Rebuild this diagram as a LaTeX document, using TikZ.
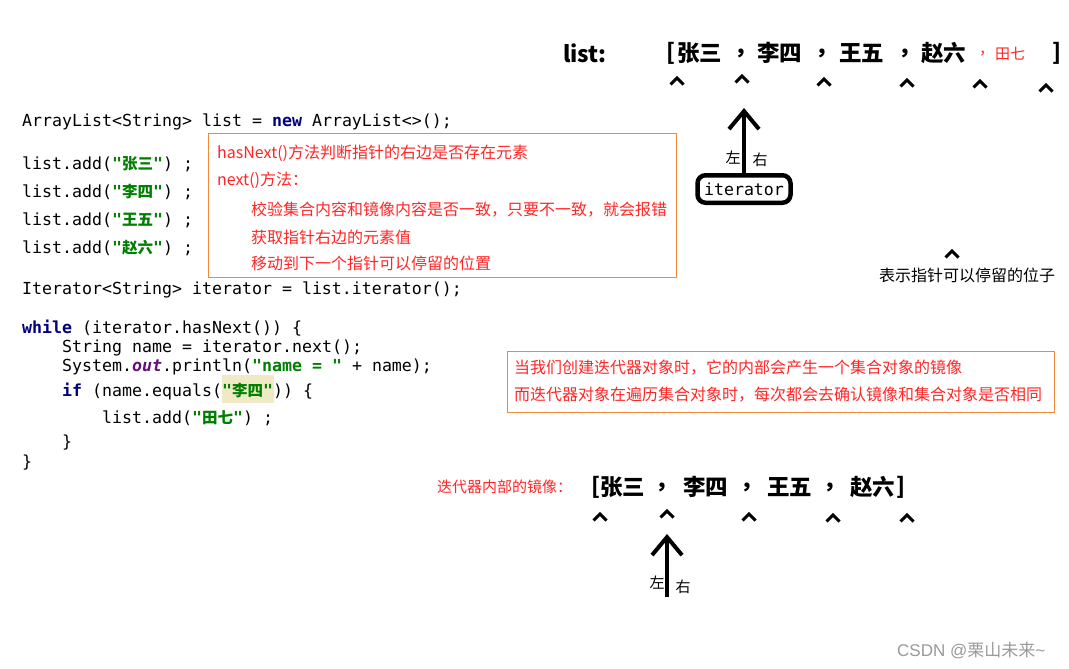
\documentclass[tikz,border=0pt]{standalone}
\usepackage{fontspec}
\setmainfont{Noto Sans CJK SC}
\setmonofont{DejaVu Sans Mono}
\newfontfamily\cjkfont{Noto Sans CJK SC}
\newfontfamily\wmfont{Liberation Sans}
\usetikzlibrary{arrows.meta,positioning}
\definecolor{NoteRed}{HTML}{FF2626}
\definecolor{NoteEdge}{HTML}{F0883A}
\definecolor{KeyNavy}{HTML}{00007F}
\definecolor{StrGreen}{HTML}{008000}
\definecolor{FieldPurple}{HTML}{660E7A}
\definecolor{MatchBg}{HTML}{EFE9C6}
\definecolor{MarkGray}{HTML}{9A9A9A}
\newcommand{\cdfont}{\ttfamily\fontsize{16.6}{20}\selectfont}
\newcommand{\ntfont}{\fontsize{16}{18}\selectfont}
\newcommand{\bgfont}{\bfseries\fontsize{22.5}{24}\selectfont}
\newcommand{\jkw}[1]{{\color{KeyNavy}\bfseries #1}}
\newcommand{\jstr}[1]{{\color{StrGreen}\bfseries #1}}
\newcommand{\jout}[1]{{\color{FieldPurple}\bfseries\itshape #1}}
\newcommand{\jcn}[1]{{\cjkfont\fontsize{15.5}{18}\selectfont #1}}
\tikzset{
  codeln/.style={anchor=base west, inner sep=0pt, font=\cdfont},
  notebox/.style={draw=NoteEdge, line width=1.2pt, fill=white, anchor=north west, inner sep=0pt},
  notetxt/.style={anchor=west, inner sep=0pt, text=NoteRed, font=\ntfont},
  bigtxt/.style={anchor=west, inner sep=0pt, font=\bgfont},
  sidetxt/.style={inner sep=0pt, font=\fontsize{15}{17}\selectfont},
  caret/.style={line width=3pt},
  ptrarr/.style={line width=4pt, -{Straight Barb[length=18pt,width=30pt]}},
  itbox/.style={draw, line width=4.5pt, rounded corners=8pt, minimum width=93pt,
                minimum height=27.5pt, inner sep=0pt, font=\cdfont}
}
\begin{document}
\begin{tikzpicture}[x=1pt, y=-1pt]
\useasboundingbox (0,0) rectangle (1069,669);
\fill[white] (0,0) rectangle (1069,669);

% list as it grows
\node[bigtxt] (lstLbl) at (563,53) {list:};
\node[bigtxt] (tOpen) at (666,53) {[};
\node[bigtxt] (tA) at (677,53) {张三};
\node[bigtxt] (tCa) at (734,53) {，};
\node[bigtxt] (tB) at (757,53) {李四};
\node[bigtxt] (tCb) at (815,53) {，};
\node[bigtxt] (tC) at (839,53) {王五};
\node[bigtxt] (tCc) at (898,53) {，};
\node[bigtxt] (tD) at (921,53) {赵六};
\node[notetxt, font=\fontsize{15}{17}\selectfont] (tCd) at (979,54) {，};
\node[notetxt, font=\fontsize{15}{17}\selectfont] (tE) at (995,54) {田七};
\node[bigtxt] (tClose) at (1052,53) {]};
\foreach \cx/\cy in {677/81, 742/79, 824/82, 907/83, 980/84, 1046/88}
  \draw[caret] (\cx-6.5,\cy+3.5) -- (\cx,\cy-3) -- (\cx+6.5,\cy+3.5);

% pointer
\node[itbox] (itBox) at (744,189) {iterator};
\coordinate (topTip) at (744,108);
\draw[ptrarr] (itBox.north) -- (topTip);
\node[sidetxt] (topL) at (733,158) {左};
\node[sidetxt] (topR) at (760,160) {右};

% legend
\draw[caret] (945.5,257.5) -- (952,251) -- (958.5,257.5);
\node[sidetxt, anchor=west, font=\fontsize{16}{18}\selectfont] (legend) at (879,275) {表示指针可以停留的位子};

% code
\fill[MatchBg] (222,375) rectangle (274,403);
\node[codeln] (lDecl) at (22,126) {ArrayList<String> list = \jkw{new} ArrayList<>();};
\node[codeln] (lAddA) at (22,169) {list.add(\jstr{"\jcn{张三}"}) ;};
\node[codeln] (lAddB) at (22,197) {list.add(\jstr{"\jcn{李四}"}) ;};
\node[codeln] (lAddC) at (22,225) {list.add(\jstr{"\jcn{王五}"}) ;};
\node[codeln] (lAddD) at (22,253) {list.add(\jstr{"\jcn{赵六}"}) ;};
\node[codeln] (lIter) at (22,294) {Iterator<String> iterator = list.iterator();};
\node[codeln] (lWhile) at (22,333) {\jkw{while} (iterator.hasNext()) \{};
\node[codeln] (lNext) at (62,352) {String name = iterator.next();};
\node[codeln] (lPrint) at (62,371) {System.\jout{out}.println(\jstr{"name = "} + name);};
\node[codeln] (lIf) at (62,396) {\jkw{if} (name.equals(\jstr{"\jcn{李四}"})) \{};
\node[codeln] (lAddE) at (102,423) {list.add(\jstr{"\jcn{田七}"}) ;};
\node[codeln] (lEndIf) at (62,447) {\}};
\node[codeln] (lEndWhile) at (22,467) {\}};

% notes
\node[notebox, minimum width=468pt, minimum height=144pt] (noteA) at (208,133) {};
\node[notetxt] (nA1) at (217,153) {hasNext()方法判断指针的右边是否存在元素};
\node[notetxt] (nA2) at (217,180) {next()方法：};
\node[notetxt] (nA3) at (251,210) {校验集合内容和镜像内容是否一致，只要不一致，就会报错};
\node[notetxt] (nA4) at (251,237) {获取指针右边的元素值};
\node[notetxt] (nA5) at (251,263) {移动到下一个指针可以停留的位置};
\node[notebox, minimum width=547pt, minimum height=61pt] (noteB) at (507,351) {};
\node[notetxt] (nB1) at (514,368) {当我们创建迭代器对象时，它的内部会产生一个集合对象的镜像};
\node[notetxt] (nB2) at (514,395) {而迭代器对象在遍历集合对象时，每次都会去确认镜像和集合对象是否相同};

% snapshot
\node[notetxt, font=\fontsize{15}{17}\selectfont] (snapLbl) at (437,487) {迭代器内部的镜像：};
\node[bigtxt] (bOpen) at (591,487) {[};
\node[bigtxt] (bA) at (600,487) {张三};
\node[bigtxt] (bCa) at (655,487) {，};
\node[bigtxt] (bB) at (683,487) {李四};
\node[bigtxt] (bCb) at (740,487) {，};
\node[bigtxt] (bC) at (767,487) {王五};
\node[bigtxt] (bCc) at (823,487) {，};
\node[bigtxt] (bD) at (850,487) {赵六};
\node[bigtxt] (bClose) at (896,487) {]};
\foreach \cx/\cy in {600/517, 667/514, 749/517, 833/518, 907/518}
  \draw[caret] (\cx-6.5,\cy+3.5) -- (\cx,\cy-3) -- (\cx+6.5,\cy+3.5);
\coordinate (btmTip) at (667,534);
\coordinate (btmTail) at (667,597);
\draw[ptrarr] (btmTail) -- (btmTip);
\node[sidetxt] (btmL) at (657,583) {左};
\node[sidetxt] (btmR) at (683,587) {右};

\node[sidetxt, anchor=west, text=MarkGray, font=\fontsize{17}{19}\selectfont] (mark) at (897,651) {{\wmfont CSDN @}栗山未来{\wmfont\char`\~}};
\end{tikzpicture}
\end{document}
